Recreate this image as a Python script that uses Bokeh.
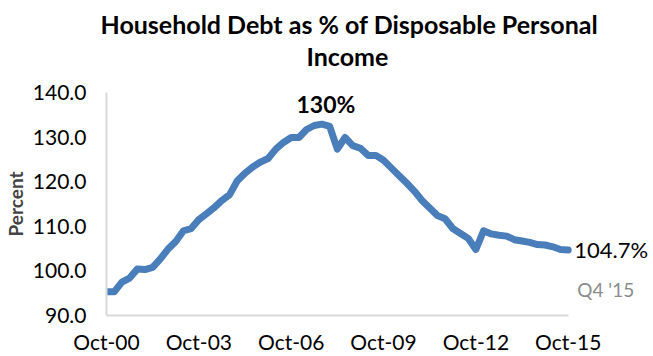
from bokeh.plotting import figure
from bokeh.models import FixedTicker, Label, ColumnDataSource, Range1d, Title
from bokeh.embed import file_html
from bokeh.resources import INLINE

# ---- data (quarterly, Q4 2000 .. Q4 2015) ----
ratio = [95.3, 95.3, 97.5, 98.4, 100.4, 100.3, 100.8, 102.7, 104.9, 106.6,
         109.0, 109.5, 111.5, 112.8, 114.2, 115.8, 117.1, 120.2, 121.9, 123.3,
         124.4, 125.2, 127.3, 128.8, 129.9, 129.9, 131.7, 132.6, 132.9, 132.4,
         127.3, 129.9, 128.1, 127.5, 125.9, 125.9, 124.8, 123.1, 121.4, 119.7,
         117.9, 115.8, 114.1, 112.4, 111.7, 109.5, 108.4, 107.3, 104.8, 109.0,
         108.3, 108.0, 107.8, 107.0, 106.7, 106.4, 105.9, 105.8, 105.4, 104.8,
         104.7]
quarter_index = list(range(len(ratio)))
tick_positions = [0, 12, 24, 36, 48, 60]
tick_labels = ["Oct-00", "Oct-03", "Oct-06", "Oct-09", "Oct-12", "Oct-15"]
y_ticks = [90, 100, 110, 120, 130, 140]
peak_label = "130%"
last_label = "104.7%"
last_period = "Q4 '15"
title_lines = ["Household Debt as % of Disposable Personal", "Income"]

W, H = 653, 356
LEFT, BOTTOM, TOP = 95, 35, 92
PLOT_RIGHT = 566               # pixel position of x=60
FONT = "Lato"

X0, X1 = 0, 60
Y0, Y1 = 90, 140
x_end = X0 + (X1 - X0) * (W - LEFT) / (PLOT_RIGHT - LEFT)

p = figure(width=W, height=H, output_backend="svg", toolbar_location=None,
           x_range=Range1d(X0, x_end), y_range=Range1d(Y0, Y1),
           min_border_left=LEFT, min_border_right=0,
           min_border_top=TOP, min_border_bottom=BOTTOM,
           background_fill_color="white", border_fill_color="white")
p.outline_line_color = None
p.xgrid.visible = False
p.ygrid.visible = False

src = ColumnDataSource(dict(x=quarter_index, y=ratio))
p.line("x", "y", source=src, line_color="#4a7ebb", line_width=7,
       line_join="round", line_cap="round")

for ax in (p.xaxis[0], p.yaxis[0]):
    ax.axis_line_color = "#d9d9d9"
    ax.axis_line_width = 2
    ax.major_tick_line_color = None
    ax.minor_tick_line_color = None
    ax.major_label_text_font = FONT
    ax.major_label_text_font_size = "21px"
    ax.major_label_text_color = "black"

p.xaxis[0].bounds = (X0, X1)
p.xaxis[0].ticker = FixedTicker(ticks=tick_positions)
p.xaxis[0].major_label_overrides = {t: l for t, l in zip(tick_positions, tick_labels)}
p.xaxis[0].major_label_standoff = 7

p.yaxis[0].ticker = FixedTicker(ticks=y_ticks)
p.yaxis[0].major_label_overrides = {t: f"{t:.1f}" for t in y_ticks}
p.yaxis[0].major_label_standoff = 14
p.yaxis[0].axis_label = "Percent"
p.yaxis[0].axis_label_text_font = FONT
p.yaxis[0].axis_label_text_font_style = "bold"
p.yaxis[0].axis_label_text_font_size = "19px"
p.yaxis[0].axis_label_standoff = 3

# title (stacked panels, first added sits closest to the plot)
p.add_layout(Title(text=" ", text_font=FONT, text_font_size="10px",
                   standoff=8), "above")                        # spacer
p.add_layout(Title(text=title_lines[1], text_font=FONT, text_font_style="bold",
                   text_font_size="25px", align="left", offset=200,
                   standoff=0, text_color="black"), "above")
p.add_layout(Title(text=title_lines[0], text_font=FONT, text_font_style="bold",
                   text_font_size="25px", align="left", offset=-6,
                   standoff=0, text_color="black"), "above")

# peak annotation
pk = ratio.index(max(ratio))
p.add_layout(Label(x=quarter_index[pk], y=ratio[pk], text=peak_label,
                   text_font=FONT, text_font_style="bold", text_font_size="23px",
                   text_align="center", text_baseline="middle",
                   x_offset=4, y_offset=20, text_color="black"))

# last value annotation
p.add_layout(Label(x=quarter_index[-1], y=ratio[-1], text=last_label,
                   text_font=FONT, text_font_size="22px",
                   text_align="left", text_baseline="middle",
                   x_offset=6, y_offset=0, text_color="black"))
p.add_layout(Label(x=quarter_index[-1], y=ratio[-1], text=last_period,
                   text_font=FONT, text_font_size="19px",
                   text_align="left", text_baseline="middle",
                   x_offset=9, y_offset=-40, text_color="#8c8c8c"))

open("out.html", "w").write(file_html(p, INLINE))
